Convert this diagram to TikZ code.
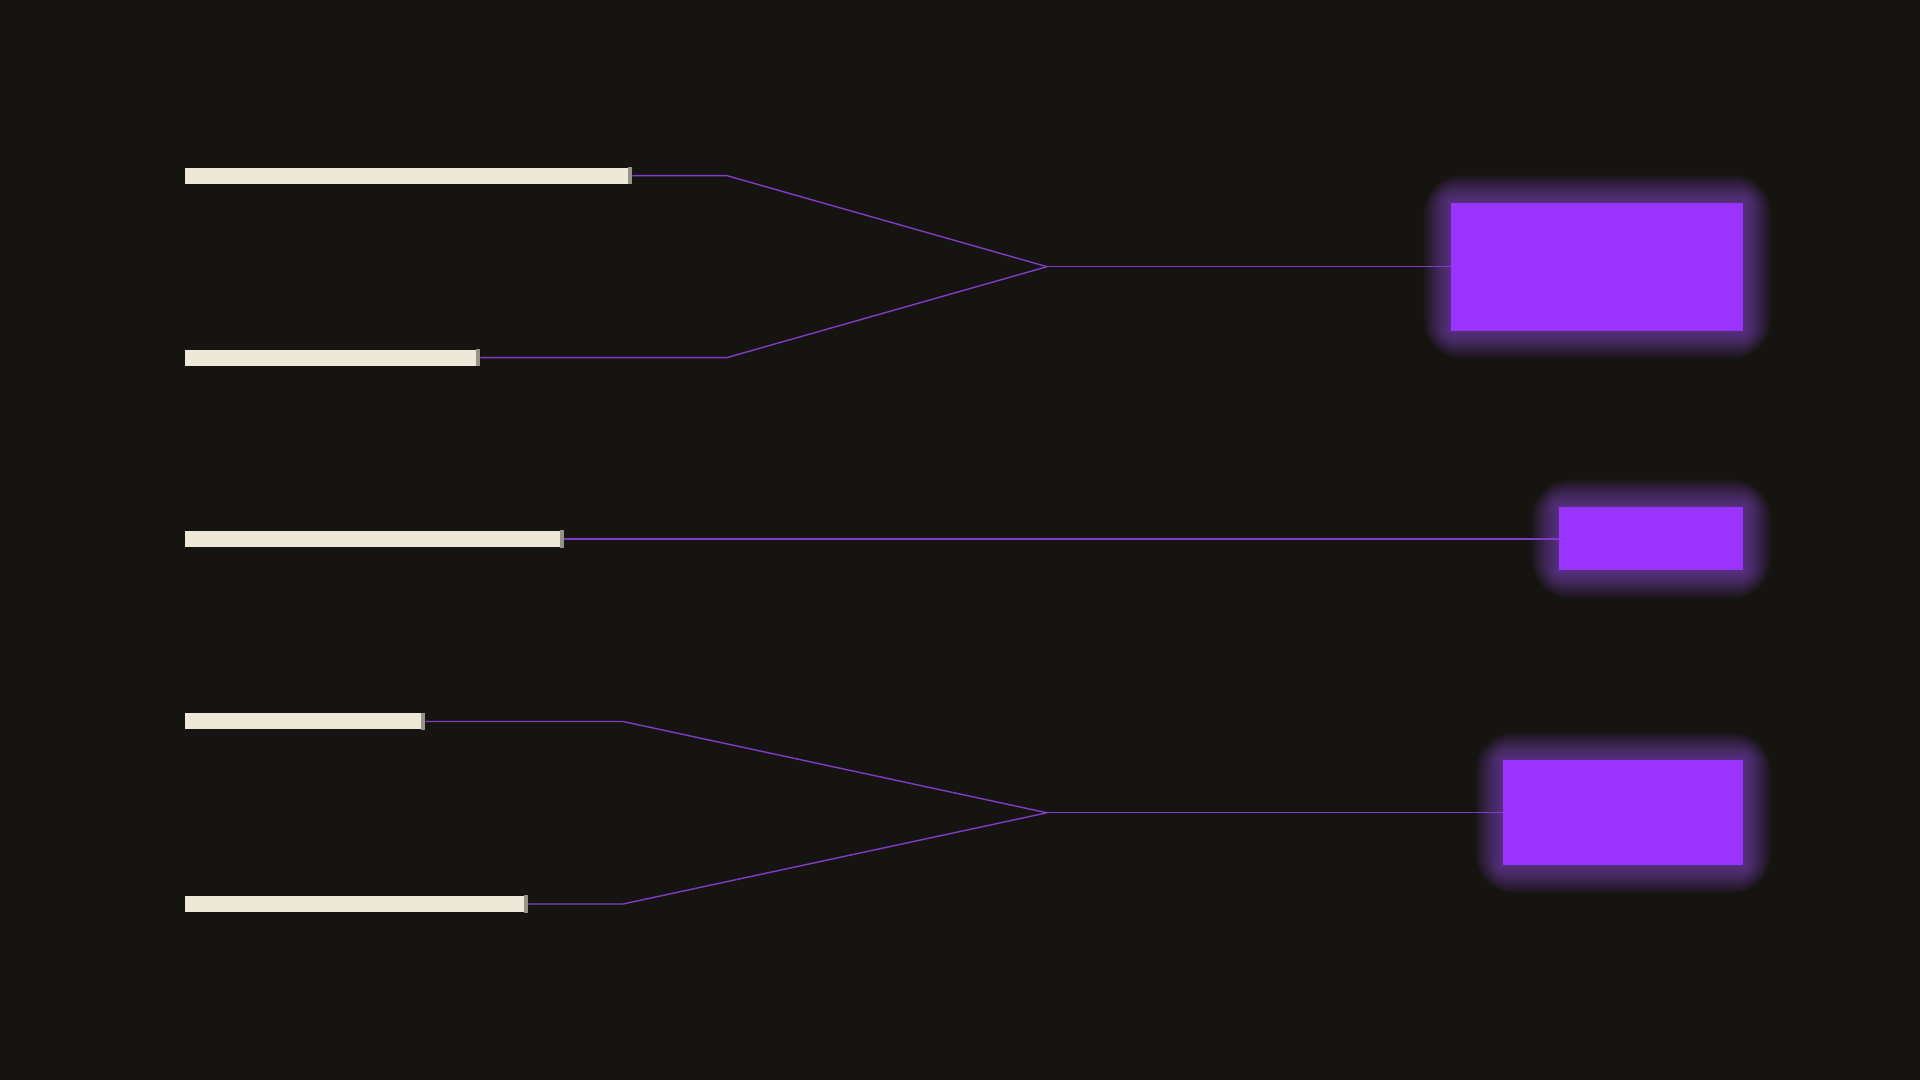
\documentclass[tikz,border=0pt]{standalone}
\usepackage{tikz}
\usetikzlibrary{calc,backgrounds}

\definecolor{bgdark}{RGB}{22,20,17}
\definecolor{barcream}{RGB}{237,232,216}
\definecolor{barcap}{RGB}{150,146,136}
\definecolor{boxpurple}{RGB}{155,51,255}
\definecolor{glowpurple}{RGB}{165,90,255}
\definecolor{linkpurple}{RGB}{128,60,200}

\tikzset{
  bar/.style={fill=barcream, inner sep=0pt, minimum height=0.16cm, anchor=west},
  outbox/.style={fill=boxpurple, inner sep=0pt, anchor=east},
  link/.style={draw=linkpurple, line width=0.4pt},
}

\newcommand{\glowbox}[1]{%
  \foreach \g in {1,...,16}
    \fill[glowpurple, opacity=0.04, rounded corners=\g*0.7pt]
      ($(#1.south west)+(-\g*0.017,-\g*0.017)$) rectangle ($(#1.north east)+(\g*0.017,\g*0.017)$);
}

\begin{document}
\begin{tikzpicture}
   % inputs
   \node[bar, minimum width=4.47cm] (b1) at (1.84,9.043) {};
   \node[bar, minimum width=2.95cm] (b2) at (1.84,7.224) {};
   \node[bar, minimum width=3.79cm] (b3) at (1.84,5.41) {};
   \node[bar, minimum width=2.40cm] (b4) at (1.84,3.585) {};
   \node[bar, minimum width=3.43cm] (b5) at (1.84,1.76) {};
   \foreach \b in {b1,b2,b3,b4,b5}
     \fill[barcap] ($(\b.north east)+(-0.04,0)$) rectangle (\b.south east);

   % outputs
   \node[outbox, minimum width=2.92cm, minimum height=1.28cm] (o1) at (17.44,8.133) {};
   \node[outbox, minimum width=1.84cm, minimum height=0.63cm] (o2) at (17.44,5.41) {};
   \node[outbox, minimum width=2.40cm, minimum height=1.05cm] (o3) at (17.44,2.672) {};

   \begin{scope}[on background layer]
     \fill[bgdark] (0,0) rectangle (19.2,10.8);
     \glowbox{o1}
     \glowbox{o2}
     \glowbox{o3}
   \end{scope}
   \useasboundingbox (0,0) rectangle (19.2,10.8);

   % merge points
   \coordinate (m1) at (10.47,8.133);
   \coordinate (m2) at (10.47,2.672);
   \coordinate (k1) at (7.27,0);
   \coordinate (k2) at (6.23,0);

   \draw[link] (b1.east) -- (b1.east -| k1) -- (m1);
   \draw[link] (b2.east) -- (b2.east -| k1) -- (m1);
   \draw[link] (m1) -- (o1.west);
   \draw[link] (b3.east) -- (o2.west);
   \draw[link] (b4.east) -- (b4.east -| k2) -- (m2);
   \draw[link] (b5.east) -- (b5.east -| k2) -- (m2);
   \draw[link] (m2) -- (o3.west);
\end{tikzpicture}
\end{document}
